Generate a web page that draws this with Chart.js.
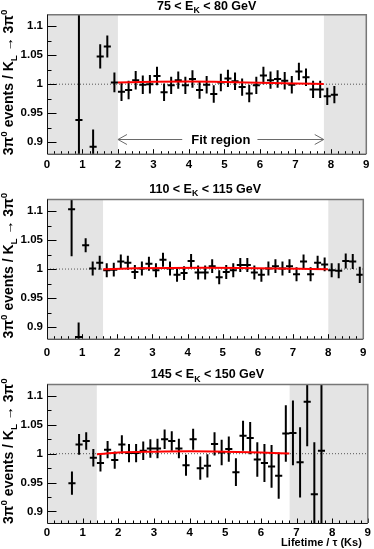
<!DOCTYPE html>
<html>
<head>
<meta charset="utf-8">
<script src="https://cdn.jsdelivr.net/npm/chart.js@4.4.1/dist/chart.umd.min.js"></script>
<style>
  html, body { margin: 0; padding: 0; background: #fff; }
  #wrap { position: relative; width: 374px; height: 549px; }
  canvas { position: absolute; left: 0; }
</style>
</head>
<body>
<div id="wrap">
  <canvas id="c1" width="374" height="180" style="top:0px"></canvas>
  <canvas id="c2" width="374" height="180" style="top:180px"></canvas>
  <canvas id="c3" width="374" height="189" style="top:360px"></canvas>
</div>
<script>
// axis tick labels
const xTicks = [0, 1, 2, 3, 4, 5, 6, 7, 8, 9];
const yTicks = [0.9, 0.95, 1, 1.05, 1.1];

// 75 < E_K < 80 GeV
const tau1 = [0.9, 1.3, 1.5, 1.7, 1.9, 2.1, 2.3, 2.5, 2.7, 2.9, 3.1, 3.3, 3.5, 3.7, 3.9, 4.1, 4.3, 4.5,
  4.7, 4.9, 5.1, 5.3, 5.5, 5.7, 5.9, 6.1, 6.3, 6.5, 6.7, 6.9, 7.1, 7.3, 7.5, 7.7, 7.9, 8.1];
const ratio1 = [0.938, 0.892, 1.048, 1.065, 1.003, 0.987, 0.990, 1.007, 0.999, 1.000, 1.014, 0.986, 0.998,
  1.007, 0.998, 1.009, 0.990, 0.999, 0.983, 1.003, 1.010, 1.005, 0.995, 0.984, 0.998, 1.015, 1.007,
  1.009, 1.006, 0.999, 1.022, 1.012, 0.991, 0.991, 0.979, 0.982];
const err1 = [0.300, 0.030, 0.021, 0.019, 0.017, 0.016, 0.016, 0.016, 0.016, 0.016, 0.016, 0.015, 0.015,
  0.015, 0.015, 0.015, 0.015, 0.015, 0.015, 0.015, 0.015, 0.015, 0.015, 0.015, 0.015, 0.015, 0.015,
  0.015, 0.015, 0.015, 0.015, 0.015, 0.015, 0.015, 0.015, 0.015];
const fitRange1 = [2.0, 7.8];
const fitTau1 = [2.0, 3.0, 4.0, 5.0, 6.0, 7.0, 7.8];
const fitVal1 = [1.0030, 1.0042, 1.0046, 1.0040, 1.0025, 1.0012, 1.0005];

// 110 < E_K < 115 GeV
const tau2 = [0.7, 0.9, 1.1, 1.3, 1.5, 1.7, 1.9, 2.1, 2.3, 2.5, 2.7, 2.9, 3.1, 3.3, 3.5, 3.7, 3.9, 4.1,
  4.3, 4.5, 4.7, 4.9, 5.1, 5.3, 5.5, 5.7, 5.9, 6.1, 6.3, 6.5, 6.7, 6.9, 7.1, 7.3, 7.5, 7.7, 7.9, 8.1,
  8.3, 8.5, 8.7, 8.9];
const ratio2 = [1.103, 0.883, 1.041, 1.001, 1.011, 0.998, 0.999, 1.013, 1.011, 0.995, 1.001, 1.009, 0.998,
  1.016, 1.001, 0.990, 0.993, 1.014, 0.994, 0.994, 1.005, 0.986, 0.995, 0.998, 1.007, 1.007, 0.994,
  0.990, 1.001, 1.005, 1.001, 1.005, 0.991, 1.013, 0.991, 1.011, 1.008, 0.998, 0.997, 1.014, 1.013, 0.990];
const err2 = [0.081, 0.025, 0.012, 0.012, 0.012, 0.012, 0.012, 0.012, 0.012, 0.012, 0.012, 0.012, 0.012,
  0.012, 0.012, 0.012, 0.012, 0.012, 0.012, 0.012, 0.012, 0.012, 0.012, 0.012, 0.012, 0.012, 0.012,
  0.012, 0.012, 0.012, 0.012, 0.012, 0.012, 0.012, 0.012, 0.012, 0.012, 0.012, 0.013, 0.013, 0.013, 0.014];
const fitRange2 = [1.6, 8.0];
const fitTau2 = [1.6, 2.5, 3.5, 4.5, 5.5, 6.5, 7.5, 8.0];
const fitVal2 = [0.9995, 1.0012, 1.0020, 1.0022, 1.0018, 1.0010, 1.0000, 0.9995];

// 145 < E_K < 150 GeV
const tau3 = [0.7, 0.9, 1.1, 1.3, 1.5, 1.7, 1.9, 2.1, 2.3, 2.5, 2.7, 2.9, 3.1, 3.3, 3.5, 3.7, 3.9, 4.1,
  4.3, 4.5, 4.7, 4.9, 5.1, 5.3, 5.5, 5.7, 5.9, 6.1, 6.3, 6.5, 6.7, 6.9, 7.1, 7.3, 7.5, 7.7];
const ratio3 = [0.949, 1.016, 1.022, 0.993, 0.984, 1.007, 0.989, 1.016, 1.001, 1.001, 1.005, 1.009, 1.009,
  1.025, 1.022, 1.009, 0.980, 1.025, 0.975, 0.979, 1.017, 1.002, 1.008, 0.968, 1.031, 1.027, 0.990,
  0.984, 0.978, 0.962, 1.035, 1.036, 0.985, 1.090, 0.930, 1.005];
const err3 = [0.020, 0.018, 0.015, 0.015, 0.015, 0.015, 0.015, 0.016, 0.016, 0.016, 0.016, 0.016, 0.017,
  0.017, 0.017, 0.017, 0.018, 0.018, 0.020, 0.020, 0.020, 0.022, 0.022, 0.024, 0.026, 0.028, 0.030,
  0.033, 0.037, 0.040, 0.049, 0.056, 0.061, 0.077, 0.090, 0.200];
const fitRange3 = [1.4, 6.8];
const fitTau3 = [1.4, 2.0, 3.0, 4.0, 5.0, 6.0, 6.8];
const fitVal3 = [0.9990, 1.0020, 1.0035, 1.0042, 1.0035, 1.0020, 1.0003];

const X_MIN = 0, X_MAX = 9, Y_MIN = 0.88, Y_MAX = 1.12;
const HALF_BIN = 0.1;
const FONT = '"Liberation Sans", Arial, Helvetica, sans-serif';

// cross-shaped error bars as broken line segments
const errorBars = (tau, val, err) => {
  const pts = [];
  tau.forEach((t, i) => {
    pts.push({ x: t, y: val[i] - err[i] }, { x: t, y: val[i] + err[i] }, { x: t, y: null });
    pts.push({ x: t - HALF_BIN, y: val[i] }, { x: t + HALF_BIN, y: val[i] }, { x: t, y: null });
  });
  return pts;
};

// text with sub/superscripts
const richWidth = (ctx, parts, size) => {
  let w = 0;
  parts.forEach((p) => {
    const s = p.sub || p.sup ? size * 0.7 : size;
    ctx.font = `bold ${s}px ${FONT}`;
    w += ctx.measureText(p.t).width;
  });
  return w;
};
const drawRich = (ctx, parts, x, y, size) => {
  parts.forEach((p) => {
    const s = p.sub || p.sup ? size * 0.7 : size;
    ctx.font = `bold ${s}px ${FONT}`;
    const dy = p.sub ? size * 0.28 : p.sup ? -size * 0.42 : 0;
    ctx.fillText(p.t, x, y + dy);
    x += ctx.measureText(p.t).width;
  });
};

const yTitle = [{ t: "3π" }, { t: "0", sup: true }, { t: " events / K" }, { t: "L", sub: true },
  { t: " → 3π" }, { t: "0", sup: true }];

const decor = (cfg) => ({
  id: "decor",
  afterDraw(chart) {
    const { ctx, chartArea: a, scales: { x, y } } = chart;
    ctx.save();
    ctx.lineWidth = 1;
    ctx.strokeStyle = "#000";

    // ticks, pointing into the frame
    ctx.beginPath();
    for (let k = 0; k <= 45; k++) {
      const v = k * 0.2;
      const px = Math.round(x.getPixelForValue(v)) + 0.5;
      const len = k % 5 === 0 ? 4.5 : 2.5;
      ctx.moveTo(px, a.bottom);
      ctx.lineTo(px, a.bottom - len);
    }
    for (let k = 0; k <= 8; k++) {
      const v = 0.9 + k * 0.025;
      const py = Math.round(y.getPixelForValue(v)) + 0.5;
      const len = k % 2 === 0 ? 9.5 : 4.5;
      ctx.moveTo(a.left, py);
      ctx.lineTo(a.left + len, py);
    }
    ctx.stroke();

    // frame
    ctx.strokeStyle = "#777";
    ctx.lineWidth = 1.5;
    ctx.beginPath();
    ctx.moveTo(a.left, a.top);
    ctx.lineTo(a.right, a.top);
    ctx.lineTo(a.right, a.bottom);
    ctx.stroke();
    ctx.strokeStyle = "#111";
    ctx.lineWidth = 1;
    ctx.beginPath();
    ctx.moveTo(a.left + 0.5, a.top);
    ctx.lineTo(a.left + 0.5, a.bottom + 0.5);
    ctx.lineTo(a.right, a.bottom + 0.5);
    ctx.stroke();

    ctx.fillStyle = "#000";
    ctx.textBaseline = "alphabetic";
    ctx.textAlign = "left";

    // title
    const tw = richWidth(ctx, cfg.title, 12.5);
    drawRich(ctx, cfg.title, (a.left + a.right) / 2 - tw / 2, cfg.titleY, 12.5);

    // y axis title, rotated
    ctx.save();
    ctx.translate(13, cfg.titleY);
    ctx.rotate(-Math.PI / 2);
    const yw = richWidth(ctx, yTitle, 14);
    drawRich(ctx, yTitle, -yw, 0, 14);
    ctx.restore();

    // x axis title
    if (cfg.xTitle) {
      ctx.font = `bold 11px ${FONT}`;
      ctx.textAlign = "right";
      ctx.fillText(cfg.xTitle, a.right - 6, a.bottom + 23);
      ctx.textAlign = "left";
    }

    // fit region arrow
    if (cfg.arrow) {
      const ay = Math.round(y.getPixelForValue(0.905)) + 0.5;
      const x0 = x.getPixelForValue(cfg.fitRange[0]);
      const x1 = x.getPixelForValue(cfg.fitRange[1]);
      const xc = x.getPixelForValue(4.9);
      ctx.font = `bold 13px ${FONT}`;
      const lw = ctx.measureText(cfg.arrow).width;
      ctx.textAlign = "center";
      ctx.fillText(cfg.arrow, xc, ay + 4.5);
      ctx.strokeStyle = "#6a6a6a";
      ctx.lineWidth = 1;
      ctx.beginPath();
      ctx.moveTo(x0, ay);
      ctx.lineTo(xc - lw / 2 - 9, ay);
      ctx.moveTo(xc + lw / 2 + 7, ay);
      ctx.lineTo(x1, ay);
      ctx.moveTo(x0 + 9, ay - 5);
      ctx.lineTo(x0, ay);
      ctx.lineTo(x0 + 9, ay + 5);
      ctx.moveTo(x1 - 9, ay - 5);
      ctx.lineTo(x1, ay);
      ctx.lineTo(x1 - 9, ay + 5);
      ctx.stroke();
    }
    ctx.restore();
  },
});

const makePanel = (cfg) => {
  const shade = (lo, hi) => ({
    data: [{ x: lo, y: Y_MAX }, { x: hi, y: Y_MAX }],
    fill: "start",
    backgroundColor: "#e4e4e4",
    borderWidth: 0,
    pointRadius: 0,
    order: 5,
  });
  new Chart(document.getElementById(cfg.id), {
    type: "line",
    data: {
      datasets: [
        {
          data: cfg.fitTau.map((t, i) => ({ x: t, y: cfg.fitVal[i] })),
          borderColor: "#ff0000",
          borderWidth: 2,
          pointRadius: 0,
          cubicInterpolationMode: "monotone",
          fill: false,
          order: 0,
        },
        {
          data: errorBars(cfg.tau, cfg.ratio, cfg.err),
          borderColor: "#000",
          borderWidth: 2,
          pointRadius: 0,
          spanGaps: false,
          fill: false,
          clip: 0,
          order: 1,
        },
        {
          data: [{ x: X_MIN, y: 1 }, { x: X_MAX, y: 1 }],
          borderColor: "#555",
          borderWidth: 1,
          borderDash: [1, 2],
          pointRadius: 0,
          fill: false,
          order: 3,
        },
        shade(X_MIN, cfg.fitRange[0]),
        shade(cfg.fitRange[1], X_MAX),
      ],
    },
    options: {
      responsive: false,
      animation: false,
      events: [],
      layout: { padding: { top: cfg.top, right: 4, left: 0, bottom: 0 } },
      plugins: { legend: { display: false }, tooltip: { enabled: false }, title: { display: false } },
      scales: {
        x: {
          type: "linear",
          min: X_MIN,
          max: X_MAX,
          grid: { display: false, drawTicks: false },
          border: { display: false },
          afterBuildTicks: (s) => { s.ticks = xTicks.map((v) => ({ value: v })); },
          afterFit: (s) => { s.height = cfg.h - cfg.bottom; },
          ticks: {
            autoSkip: false,
            maxRotation: 0,
            padding: cfg.labelPad,
            color: "#000",
            font: { family: FONT, weight: "bold", size: 11.5 },
            callback: (v) => String(v),
          },
        },
        y: {
          min: Y_MIN,
          max: Y_MAX,
          grid: { display: false, drawTicks: false },
          border: { display: false },
          afterBuildTicks: (s) => { s.ticks = yTicks.map((v) => ({ value: v })); },
          afterFit: (s) => { s.width = 47; },
          ticks: {
            padding: 4,
            color: "#000",
            font: { family: FONT, weight: "bold", size: 11.5 },
            callback: (v) => String(parseFloat(v.toFixed(2))),
          },
        },
      },
    },
    plugins: [decor(cfg)],
  });
};

makePanel({
  id: "c1", h: 180, top: 14.7, bottom: 153.7, labelPad: 4.5, titleY: 9.5,
  title: [{ t: "75 < E" }, { t: "K", sub: true }, { t: " < 80 GeV" }],
  tau: tau1, ratio: ratio1, err: err1, fitRange: fitRange1, fitTau: fitTau1, fitVal: fitVal1,
  arrow: "Fit region",
});
makePanel({
  id: "c2", h: 180, top: 19.4, bottom: 158.7, labelPad: 7.5, titleY: 12.7,
  title: [{ t: "110 < E" }, { t: "K", sub: true }, { t: " < 115 GeV" }],
  tau: tau2, ratio: ratio2, err: err2, fitRange: fitRange2, fitTau: fitTau2, fitVal: fitVal2,
});
makePanel({
  id: "c3", h: 189, top: 24.4, bottom: 163, labelPad: 3, titleY: 18.3,
  title: [{ t: "145 < E" }, { t: "K", sub: true }, { t: " < 150 GeV" }],
  tau: tau3, ratio: ratio3, err: err3, fitRange: fitRange3, fitTau: fitTau3, fitVal: fitVal3,
  xTitle: "Lifetime / τ (Ks)",
});
</script>
</body>
</html>
